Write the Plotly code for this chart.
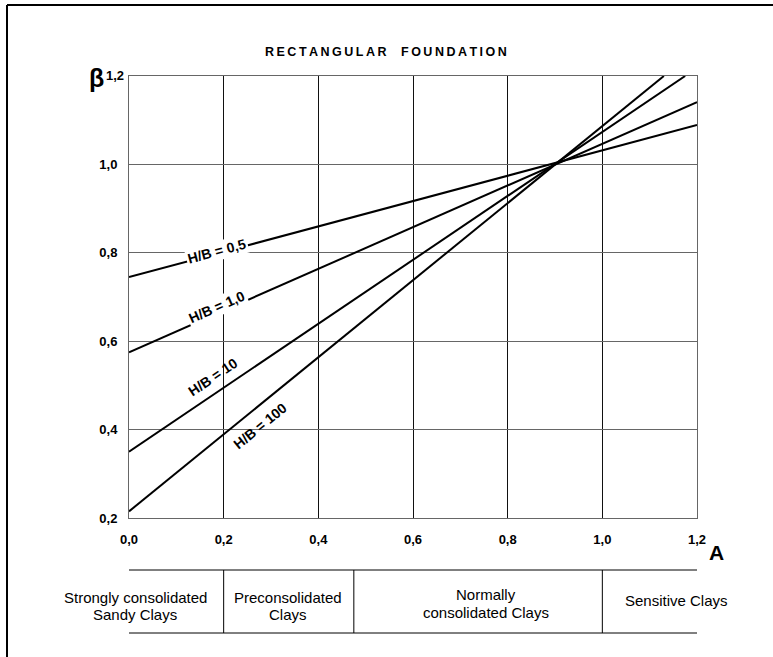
import math
import numpy as np
import plotly.graph_objects as go

# ---------------- data ----------------
x_ticks = [0.0, 0.2, 0.4, 0.6, 0.8, 1.0, 1.2]
y_ticks = [0.2, 0.4, 0.6, 0.8, 1.0, 1.2]
y_tick_labels = ["0,2", "0,4", "0,6", "0,8", "1,0", "1,2"]

series_names = ["H/B = 0,5", "H/B = 1,0", "H/B = 10", "H/B = 100"]
hb05_A = [0.0, 1.2]
hb05_beta = [0.745, 1.089]
hb1_A = [0.0, 1.2]
hb1_beta = [0.575, 1.141]
hb10_A = [0.0, 1.175]
hb10_beta = [0.350, 1.200]
hb100_A = [0.0, 1.130]
hb100_beta = [0.215, 1.200]

clay_labels = [["Strongly consolidated", "Sandy Clays"],
               ["Preconsolidated", "Clays"],
               ["Normally", "consolidated Clays"],
               ["Sensitive Clays"]]
clay_bounds = [0.0, 0.2, 0.475, 1.0, 1.2]

title_text = "RECTANGULAR  FOUNDATION"

# ---------------- layout geometry ----------------
W, H = 773, 657
L, R, T, B = 129, 76, 76, 139
PW, PH = W - L - R, H - T - B
XR = (0.0, 1.2)
YR = (0.2, 1.2)
px_per_x = PW / (XR[1] - XR[0])
px_per_y = PH / (YR[1] - YR[0])


def pxx(px):
    return (px - L) / PW


def pxy(py):
    return (H - B - py) / PH


def tracked(s, sep="\u2009"):
    return sep.join(list(s))


FONT = "Liberation Sans, Arial, sans-serif"

fig = go.Figure()
all_series = [(hb05_A, hb05_beta), (hb1_A, hb1_beta), (hb10_A, hb10_beta), (hb100_A, hb100_beta)]
for name, (xa, yb) in zip(series_names, all_series):
    fig.add_trace(go.Scatter(x=xa, y=yb, mode="lines", name=name,
                             line=dict(color="black", width=2), showlegend=False,
                             hoverinfo="skip"))

annotations = []
# line labels: (A position, perpendicular offset px, white background)
label_cfg = [(0.188, 2, True), (0.19, 6, True), (0.195, 15, False), (0.255, -16, False)]
for name, (xa, yb), (a_pos, d, bg) in zip(series_names, all_series, label_cfg):
    slope = (yb[1] - yb[0]) / (xa[1] - xa[0])
    theta = math.atan(slope * px_per_y / px_per_x)
    b_pos = float(np.interp(a_pos, xa, yb))
    annotations.append(dict(
        x=a_pos, y=b_pos, xref="x", yref="y", text="<b>%s</b>" % name,
        showarrow=False, textangle=-math.degrees(theta),
        xshift=-d * math.sin(theta), yshift=d * math.cos(theta),
        font=dict(family=FONT, size=14, color="black"),
        bgcolor="white" if bg else "rgba(0,0,0,0)", borderpad=1,
        xanchor="center", yanchor="middle"))

# top y tick label placed beside the beta symbol (as in the original)
annotations.append(dict(x=0, y=y_ticks[-1], xref="paper", yref="y",
                        text="<b>%s</b>" % y_tick_labels[-1], showarrow=False,
                        xshift=-3, yshift=1,
                        font=dict(family=FONT, size=13, color="black"),
                        xanchor="right", yanchor="middle"))

# title, axis symbols
annotations.append(dict(x=pxx(386), y=pxy(52), xref="paper", yref="paper",
                        text="<b>%s</b>" % tracked(title_text), showarrow=False,
                        font=dict(family=FONT, size=12.5, color="black"),
                        xanchor="center", yanchor="middle"))
annotations.append(dict(x=pxx(96), y=pxy(78), xref="paper", yref="paper",
                        text="<b>β</b>", showarrow=False,
                        font=dict(family=FONT, size=25, color="black"),
                        xanchor="center", yanchor="middle"))
annotations.append(dict(x=pxx(716), y=pxy(552), xref="paper", yref="paper",
                        text="<b>A</b>", showarrow=False,
                        font=dict(family=FONT, size=21, color="black"),
                        xanchor="center", yanchor="middle"))

# clay classification table
clay_text_px = [(135, [597, 614]), (288, [597, 614]), (486, [594, 612]), (676, [600])]
for lines, (cx, cys) in zip(clay_labels, clay_text_px):
    for line_txt, cy in zip(lines, cys):
        annotations.append(dict(x=pxx(cx), y=pxy(cy), xref="paper", yref="paper",
                                text=line_txt, showarrow=False,
                                font=dict(family=FONT, size=15, color="black"),
                                xanchor="center", yanchor="middle"))

shapes = []
tbl_top, tbl_bot = pxy(570), pxy(633)
shapes.append(dict(type="line", xref="x", yref="paper", x0=clay_bounds[0], x1=clay_bounds[-1],
                   y0=tbl_top, y1=tbl_top, line=dict(color="black", width=1)))
shapes.append(dict(type="line", xref="x", yref="paper", x0=clay_bounds[0], x1=clay_bounds[-1],
                   y0=tbl_bot, y1=tbl_bot, line=dict(color="black", width=1)))
for bnd in clay_bounds[1:-1]:
    shapes.append(dict(type="line", xref="x", yref="paper", x0=bnd, x1=bnd,
                       y0=tbl_top, y1=tbl_bot, line=dict(color="black", width=1)))
# outer frame (top and left)
shapes.append(dict(type="line", xref="paper", yref="paper", x0=pxx(7), x1=pxx(780),
                   y0=pxy(5), y1=pxy(5), line=dict(color="black", width=2)))
shapes.append(dict(type="line", xref="paper", yref="paper", x0=pxx(7), x1=pxx(7),
                   y0=pxy(5), y1=pxy(665), line=dict(color="black", width=2)))

fig.update_layout(
    width=W, height=H, margin=dict(l=L, r=R, t=T, b=B, autoexpand=False),
    paper_bgcolor="white", plot_bgcolor="white",
    separators=",.",
    annotations=annotations, shapes=shapes,
    xaxis=dict(range=list(XR), tickvals=x_ticks, tickformat=".1f",
               showgrid=True, gridcolor="#111", gridwidth=1,
               showline=True, linecolor="#666", linewidth=1, mirror=True,
               zeroline=False, ticks="", ticklabelstandoff=9,
               tickfont=dict(family=FONT, size=13, color="black", weight="bold")),
    yaxis=dict(range=list(YR), tickvals=y_ticks,
               ticktext=["<b>%s</b>" % t for t in y_tick_labels[:-1]] + [""],
               showgrid=True, gridcolor="#666", gridwidth=1,
               showline=True, linecolor="#666", linewidth=1, mirror=True,
               zeroline=False, ticks="", ticklabelstandoff=8,
               tickfont=dict(family=FONT, size=13, color="black")),
)

fig.write_html("out.html", config={"displayModeBar": False},
               post_script="document.body.style.margin='0';document.body.style.overflow='hidden';")
